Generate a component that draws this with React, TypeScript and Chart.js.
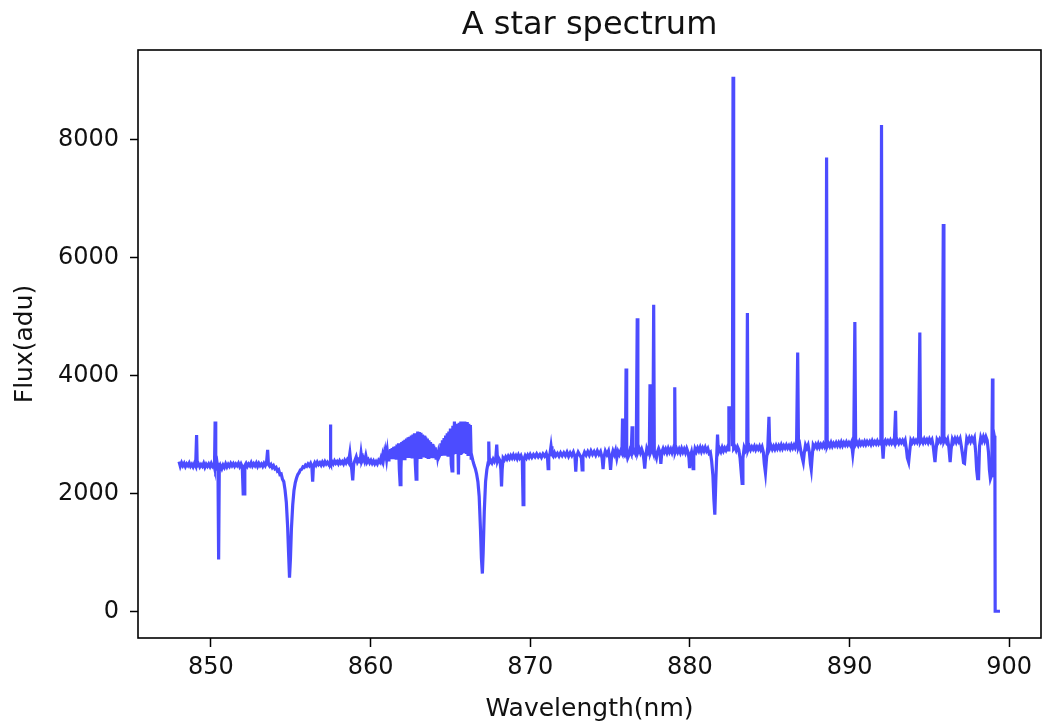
import React, { useEffect, useRef } from "react";
import { Chart, registerables } from "chart.js";

Chart.register(...registerables);

const TITLE = "A star spectrum";
const X_LABEL = "Wavelength(nm)";
const Y_LABEL = "Flux(adu)";
const X_TICKS = [850, 860, 870, 880, 890, 900];
const Y_TICKS = [0, 2000, 4000, 6000, 8000];
const X_MIN = 845.43;
const X_MAX = 901.99;
const Y_MIN = -453.5;
const Y_MAX = 9523.5;

// [wavelength nm, flux adu]
const SEG_848_860: [number, number][] = [
  [848.0, 2540], [848.08, 2460], [848.16, 2520], [848.24, 2470], [848.32, 2510], [848.4, 2455],
  [848.48, 2500], [848.56, 2470], [848.64, 2515], [848.72, 2460], [848.8, 2495], [848.88, 2450],
  [848.96, 2505], [849.04, 2465], [849.1, 2990], [849.14, 2470], [849.22, 2500], [849.3, 2450],
  [849.38, 2490], [849.46, 2460], [849.54, 2510], [849.62, 2445], [849.7, 2495], [849.78, 2460],
  [849.86, 2500], [849.94, 2455], [850.02, 2510], [850.1, 2460], [850.18, 2490], [850.22, 2440],
  [850.26, 3220], [850.3, 2450], [850.38, 2520], [850.44, 2400], [850.48, 880], [850.52, 2380],
  [850.6, 2470], [850.68, 2420], [850.76, 2480], [850.84, 2440], [850.92, 2500], [851.0, 2450],
  [851.08, 2495], [851.16, 2460], [851.24, 2510], [851.32, 2470], [851.4, 2505], [851.48, 2460],
  [851.56, 2500], [851.64, 2470], [851.72, 2510], [851.8, 2455], [851.88, 2500], [851.96, 2450],
  [852.02, 1990], [852.08, 1990], [852.12, 2470], [852.2, 2510], [852.28, 2460], [852.36, 2500],
  [852.44, 2470], [852.52, 2520], [852.6, 2465], [852.68, 2505], [852.76, 2470], [852.84, 2515],
  [852.92, 2460], [853.0, 2510], [853.08, 2470], [853.16, 2500], [853.24, 2460], [853.32, 2510],
  [853.4, 2470], [853.48, 2520], [853.55, 2740], [853.6, 2490], [853.68, 2460], [853.76, 2490],
  [853.84, 2440], [853.92, 2470], [854.0, 2420], [854.08, 2440], [854.16, 2380], [854.24, 2400],
  [854.32, 2320], [854.4, 2330], [854.48, 2240], [854.56, 2200], [854.64, 2060], [854.72, 1850],
  [854.8, 1450], [854.86, 1000], [854.92, 570], [854.98, 900], [855.04, 1400], [855.12, 1800],
  [855.2, 2050], [855.28, 2180], [855.36, 2260], [855.44, 2320], [855.52, 2350], [855.6, 2400],
  [855.68, 2410], [855.76, 2450], [855.84, 2440], [855.92, 2480], [856.0, 2460], [856.08, 2500],
  [856.16, 2470], [856.24, 2510], [856.32, 2450], [856.37, 2200], [856.42, 2470], [856.5, 2520],
  [856.58, 2480], [856.66, 2530], [856.74, 2490], [856.82, 2520], [856.9, 2480], [856.98, 2530],
  [857.06, 2490], [857.14, 2540], [857.22, 2500], [857.3, 2530], [857.38, 2490], [857.46, 2520],
  [857.48, 3170], [857.51, 2500], [857.58, 2540], [857.66, 2500], [857.74, 2550], [857.82, 2510],
  [857.9, 2540], [857.98, 2500], [858.06, 2550], [858.14, 2510], [858.22, 2540], [858.3, 2500],
  [858.38, 2560], [858.46, 2520], [858.54, 2570], [858.62, 2530], [858.7, 2680], [858.76, 2520],
  [858.82, 2400], [858.88, 2220], [858.94, 2500], [859.02, 2560], [859.1, 2620], [859.18, 2530],
  [859.26, 2570], [859.34, 2540], [859.4, 2680], [859.46, 2550], [859.54, 2600], [859.62, 2540],
  [859.7, 2640], [859.78, 2530], [859.86, 2570], [859.94, 2520], [860.02, 2560], [860.1, 2510],
  [860.18, 2550], [860.26, 2500], [860.34, 2540], [860.42, 2500], [860.5, 2560], [860.58, 2530],
];

const SEG_860_866: [number, number][] = [
  [860.65, 2600], [860.7, 2560], [860.75, 2640], [860.8, 2570], [860.85, 2660], [860.9, 2560],
  [860.95, 2680], [861.0, 2580], [861.05, 2700], [861.1, 2570], [861.15, 2720], [861.2, 2590],
  [861.25, 2750], [861.3, 2580], [861.35, 2770], [861.4, 2590], [861.45, 2790], [861.5, 2580],
  [861.55, 2800], [861.6, 2600], [861.65, 2830], [861.7, 2590], [861.75, 2850], [861.8, 2400],
  [861.85, 2150], [861.9, 2400], [861.95, 2870], [862.0, 2600], [862.05, 2890], [862.1, 2590],
  [862.15, 2910], [862.2, 2610], [862.25, 2930], [862.3, 2600], [862.35, 2950], [862.4, 2610],
  [862.45, 2960], [862.5, 2600], [862.55, 2980], [862.6, 2620], [862.65, 3000], [862.7, 2610],
  [862.75, 3020], [862.8, 2500], [862.85, 2240], [862.9, 2500], [862.95, 3050], [863.0, 2620],
  [863.05, 3040], [863.1, 2610], [863.15, 3030], [863.2, 2620], [863.25, 3000], [863.3, 2610],
  [863.35, 2980], [863.4, 2620], [863.45, 2950], [863.5, 2600], [863.55, 2930], [863.6, 2610],
  [863.65, 2900], [863.7, 2600], [863.75, 2870], [863.8, 2610], [863.85, 2840], [863.9, 2600],
  [863.95, 2810], [864.0, 2610], [864.05, 2780], [864.1, 2600], [864.15, 2740], [864.2, 2620],
  [864.25, 2700], [864.3, 2630], [864.35, 2660], [864.4, 2850], [864.45, 2640], [864.5, 2900],
  [864.55, 2650], [864.6, 2940], [864.65, 2640], [864.7, 2980], [864.75, 2660], [864.8, 3020],
  [864.85, 2650], [864.9, 3050], [864.95, 2670], [865.0, 3100], [865.05, 2500], [865.1, 2380],
  [865.15, 3150], [865.2, 2660], [865.25, 3220], [865.3, 2680], [865.35, 3180], [865.4, 2670],
  [865.45, 3150], [865.5, 2320], [865.55, 3200], [865.6, 2680], [865.65, 3220], [865.7, 2670],
  [865.75, 3210], [865.8, 2690], [865.85, 3220], [865.9, 2680], [865.95, 3200], [866.0, 2670],
  [866.05, 3210], [866.1, 2660], [866.15, 3180], [866.2, 2650], [866.25, 3160], [866.3, 2600],
  [866.35, 2620], [866.4, 2560],
];

const SEG_866_876: [number, number][] = [
  [866.48, 2480], [866.56, 2420], [866.64, 2330], [866.72, 2200], [866.8, 1950], [866.88, 1400],
  [866.94, 900], [867.0, 640], [867.05, 1000], [867.12, 1700], [867.2, 2200], [867.28, 2400],
  [867.36, 2520], [867.4, 2880], [867.44, 2520], [867.52, 2560], [867.6, 2520], [867.68, 2580],
  [867.76, 2540], [867.84, 2590], [867.9, 2830], [867.95, 2550], [868.02, 2600], [868.1, 2560],
  [868.16, 2400], [868.2, 2120], [868.24, 2400], [868.3, 2600], [868.38, 2570], [868.46, 2620],
  [868.54, 2580], [868.62, 2630], [868.7, 2590], [868.78, 2640], [868.86, 2600], [868.94, 2650],
  [869.02, 2600], [869.1, 2640], [869.18, 2590], [869.26, 2650], [869.34, 2600], [869.42, 2640],
  [869.5, 2580], [869.55, 1810], [869.6, 2580], [869.68, 2640], [869.76, 2600], [869.84, 2650],
  [869.92, 2610], [870.0, 2660], [870.1, 2610], [870.2, 2660], [870.3, 2620], [870.4, 2670],
  [870.5, 2620], [870.6, 2660], [870.7, 2610], [870.8, 2670], [870.9, 2630], [871.0, 2680],
  [871.08, 2600], [871.12, 2420], [871.16, 2620], [871.24, 2680], [871.3, 2800], [871.36, 2660],
  [871.44, 2630], [871.52, 2690], [871.6, 2640], [871.7, 2680], [871.8, 2630], [871.9, 2690],
  [872.0, 2640], [872.1, 2690], [872.2, 2640], [872.3, 2700], [872.4, 2630], [872.5, 2690],
  [872.6, 2640], [872.7, 2700], [872.8, 2620], [872.85, 2370], [872.9, 2620], [873.0, 2700],
  [873.1, 2650], [873.2, 2600], [873.25, 2400], [873.3, 2620], [873.4, 2700], [873.5, 2650],
  [873.6, 2710], [873.7, 2650], [873.8, 2720], [873.9, 2660], [874.0, 2710], [874.1, 2650],
  [874.2, 2720], [874.3, 2660], [874.4, 2710], [874.5, 2600], [874.56, 2410], [874.62, 2620],
  [874.7, 2720], [874.8, 2660], [874.9, 2720], [874.97, 2600], [875.03, 2400], [875.09, 2620],
  [875.18, 2720], [875.26, 2660], [875.34, 2730], [875.42, 2600], [875.5, 2710], [875.58, 2660],
  [875.66, 2720], [875.74, 2680], [875.78, 3270], [875.82, 2680], [875.9, 2650], [875.96, 2720],
  [876.0, 4120], [876.04, 2690], [876.1, 2600], [876.16, 2640], [876.24, 2730], [876.32, 2680],
  [876.38, 3140], [876.42, 2690], [876.5, 2730], [876.58, 2680], [876.64, 2740], [876.7, 4970],
  [876.74, 2700], [876.82, 2760], [876.9, 2690],
];

const SEG_877_888: [number, number][] = [
  [876.98, 2750], [877.06, 2680], [877.12, 2560], [877.17, 2420], [877.22, 2600], [877.3, 2760],
  [877.38, 2700], [877.46, 2770], [877.5, 3850], [877.54, 2700], [877.62, 2760], [877.68, 2710],
  [877.73, 5200], [877.77, 2700], [877.84, 2650], [877.9, 2600], [877.96, 2700], [878.04, 2760],
  [878.12, 2700], [878.18, 2500], [878.24, 2700], [878.32, 2760], [878.4, 2700], [878.48, 2750],
  [878.56, 2690], [878.64, 2760], [878.72, 2700], [878.8, 2750], [878.88, 2690], [878.96, 2760],
  [879.02, 2700], [879.05, 3800], [879.08, 2700], [879.16, 2760], [879.24, 2700], [879.32, 2750],
  [879.4, 2690], [879.48, 2760], [879.56, 2700], [879.64, 2750], [879.72, 2690], [879.8, 2760],
  [879.88, 2700], [879.94, 2600], [879.98, 2430], [880.02, 2620], [880.1, 2700], [880.16, 2600],
  [880.2, 2420], [880.24, 2620], [880.32, 2760], [880.4, 2710], [880.48, 2770], [880.56, 2720],
  [880.64, 2780], [880.72, 2710], [880.8, 2770], [880.88, 2720], [880.96, 2780], [881.04, 2720],
  [881.12, 2760], [881.2, 2680], [881.28, 2700], [881.36, 2550], [881.44, 2300], [881.5, 1900],
  [881.56, 1640], [881.62, 2200], [881.68, 2650], [881.73, 3000], [881.78, 2700], [881.86, 2760],
  [881.94, 2710], [882.02, 2780], [882.1, 2720], [882.18, 2770], [882.26, 2730], [882.34, 2780],
  [882.4, 2740], [882.44, 3450], [882.62, 3450], [882.66, 2800], [882.7, 9070], [882.74, 2760],
  [882.82, 2790], [882.9, 2730], [882.98, 2790], [883.06, 2740], [883.14, 2600], [883.2, 2400],
  [883.27, 2170], [883.32, 2600], [883.4, 2780], [883.48, 2730], [883.56, 2790], [883.6, 5060],
  [883.64, 2740], [883.72, 2800], [883.8, 2740], [883.88, 2790], [883.96, 2750], [884.04, 2800],
  [884.12, 2740], [884.2, 2790], [884.28, 2750], [884.36, 2800], [884.44, 2740], [884.52, 2790],
  [884.6, 2700], [884.66, 2500], [884.73, 2350], [884.8, 2600], [884.88, 2790], [884.95, 3300],
  [885.0, 2760], [885.08, 2810], [885.16, 2750], [885.24, 2800], [885.32, 2750], [885.4, 2810],
  [885.48, 2760], [885.56, 2810], [885.64, 2760], [885.72, 2820], [885.8, 2760], [885.88, 2810],
  [885.96, 2770], [886.04, 2820], [886.12, 2770], [886.2, 2810], [886.28, 2760], [886.36, 2820],
  [886.44, 2770], [886.52, 2820], [886.6, 2770], [886.68, 2830], [886.75, 4390], [886.8, 2780],
  [886.88, 2830], [886.96, 2700], [887.04, 2600], [887.1, 2530], [887.16, 2680], [887.24, 2820],
  [887.32, 2770], [887.4, 2820], [887.48, 2700], [887.55, 2500], [887.6, 2410], [887.65, 2600],
  [887.72, 2820], [887.8, 2780], [887.88, 2830], [887.96, 2780],
];

const SEG_888_900: [number, number][] = [
  [888.04, 2840], [888.12, 2780], [888.2, 2830], [888.28, 2790], [888.36, 2840], [888.44, 2790],
  [888.52, 2840], [888.56, 7700], [888.6, 2800], [888.68, 2850], [888.76, 2800], [888.84, 2860],
  [888.92, 2800], [889.0, 2850], [889.08, 2810], [889.16, 2860], [889.24, 2810], [889.32, 2860],
  [889.4, 2810], [889.48, 2870], [889.56, 2810], [889.64, 2860], [889.72, 2820], [889.8, 2870],
  [889.88, 2820], [889.96, 2860], [890.04, 2820], [890.12, 2870], [890.2, 2670], [890.26, 2820],
  [890.33, 4910], [890.38, 2830], [890.46, 2870], [890.54, 2820], [890.62, 2880], [890.7, 2830],
  [890.78, 2870], [890.86, 2830], [890.94, 2880], [891.02, 2830], [891.1, 2880], [891.18, 2840],
  [891.26, 2880], [891.34, 2830], [891.42, 2890], [891.5, 2840], [891.58, 2880], [891.66, 2840],
  [891.74, 2890], [891.82, 2840], [891.9, 2880], [891.96, 2850], [892.0, 8250], [892.04, 2850],
  [892.1, 2590], [892.16, 2860], [892.24, 2900], [892.32, 2850], [892.4, 2890], [892.48, 2850],
  [892.56, 2900], [892.64, 2850], [892.72, 2890], [892.8, 2850], [892.88, 3400], [892.92, 2860],
  [893.0, 2900], [893.08, 2850], [893.16, 2900], [893.24, 2860], [893.32, 2900], [893.4, 2850],
  [893.48, 2900], [893.56, 2750], [893.62, 2600], [893.7, 2530], [893.76, 2700], [893.84, 2900],
  [893.92, 2860], [894.0, 2910], [894.08, 2860], [894.16, 2900], [894.24, 2860], [894.32, 2910],
  [894.4, 4730], [894.44, 2870], [894.52, 2910], [894.6, 2860], [894.68, 2920], [894.76, 2870],
  [894.84, 2910], [894.92, 2860], [895.0, 2920], [895.08, 2870], [895.16, 2910], [895.24, 2800],
  [895.3, 2650], [895.35, 2530], [895.4, 2700], [895.48, 2910], [895.56, 2870], [895.64, 2920],
  [895.72, 2870], [895.8, 2910], [895.87, 6570], [895.91, 2880], [895.98, 2920], [896.06, 2870],
  [896.14, 2920], [896.22, 2780], [896.3, 2530], [896.36, 2750], [896.44, 2920], [896.52, 2870],
  [896.6, 2930], [896.68, 2870], [896.76, 2930], [896.84, 2880], [896.92, 2930], [897.0, 2800],
  [897.08, 2650], [897.14, 2520], [897.2, 2510], [897.26, 2700], [897.34, 2930], [897.42, 2880],
  [897.5, 2940], [897.58, 2880], [897.66, 2940], [897.74, 2890], [897.82, 2940], [897.9, 2700],
  [897.96, 2400], [898.02, 2250], [898.08, 2250], [898.14, 2800], [898.22, 2950], [898.3, 2890],
  [898.38, 2960], [898.46, 2890], [898.54, 2960], [898.62, 2900], [898.7, 2700], [898.76, 2400],
  [898.82, 2250], [898.88, 2300], [898.92, 2950], [898.95, 3950], [898.98, 2950], [899.02, 2900],
  [899.06, 2980], [899.1, 2920], [899.12, 0], [899.42, 0],
];

const SPECTRUM = [
  ...SEG_848_860,
  ...SEG_860_866,
  ...SEG_866_876,
  ...SEG_877_888,
  ...SEG_888_900,
];

const FONT = "'DejaVu Sans', sans-serif";
const TEXT_COLOR = "#111";

const framePlugin = {
  id: "frameAndTitle",
  afterDraw(chart: any) {
    const { ctx, chartArea } = chart;
    const { left, top, right, bottom } = chartArea;
    ctx.save();
    ctx.strokeStyle = "#000";
    ctx.lineWidth = 1.6;
    ctx.strokeRect(left, top, right - left, bottom - top);
    ctx.fillStyle = TEXT_COLOR;
    ctx.font = `32px ${FONT}`;
    ctx.textAlign = "center";
    ctx.textBaseline = "middle";
    ctx.fillText(TITLE, (left + right) / 2, 26);
    ctx.restore();
  },
};

export default function App() {
  const canvasRef = useRef<HTMLCanvasElement | null>(null);

  useEffect(() => {
    if (!canvasRef.current) return;
    const chart = new Chart(canvasRef.current, {
      type: "line",
      data: {
        datasets: [
          {
            data: SPECTRUM.map(([x, y]) => ({ x, y })),
            borderColor: "rgba(0,0,255,0.7)",
            borderWidth: 3.2,
            pointRadius: 0,
            tension: 0,
            fill: false,
          },
        ],
      },
      options: {
        animation: false,
        responsive: false,
        devicePixelRatio: 1,
        layout: { padding: { top: 50, right: 2, left: 0, bottom: 0 } },
        plugins: {
          legend: { display: false },
          tooltip: { enabled: false },
          title: { display: false },
        },
        scales: {
          x: {
            type: "linear",
            min: X_MIN,
            max: X_MAX,
            afterBuildTicks: (s: any) => {
              s.ticks = X_TICKS.map((v) => ({ value: v }));
            },
            afterFit: (s: any) => {
              s.height = 89;
            },
            ticks: {
              autoSkip: false,
              maxRotation: 0,
              padding: 6,
              color: TEXT_COLOR,
              font: { family: FONT, size: 24 },
              callback: (v: any) => String(v),
            },
            grid: {
              display: true,
              drawOnChartArea: false,
              drawTicks: true,
              tickLength: 9,
              tickColor: "#000",
              tickWidth: 1.5,
            },
            border: { display: false },
            title: {
              display: true,
              text: X_LABEL,
              color: TEXT_COLOR,
              font: { family: FONT, size: 25 },
              padding: { top: 0, bottom: 3 },
            },
          },
          y: {
            type: "linear",
            min: Y_MIN,
            max: Y_MAX,
            afterBuildTicks: (s: any) => {
              s.ticks = Y_TICKS.map((v) => ({ value: v }));
            },
            afterFit: (s: any) => {
              s.width = 138;
            },
            ticks: {
              autoSkip: false,
              padding: 11,
              color: TEXT_COLOR,
              font: { family: FONT, size: 24 },
              callback: (v: any) => String(v),
            },
            grid: {
              display: true,
              drawOnChartArea: false,
              drawTicks: true,
              tickLength: 8,
              tickColor: "#000",
              tickWidth: 1.5,
            },
            border: { display: false },
            title: {
              display: true,
              text: Y_LABEL,
              color: TEXT_COLOR,
              font: { family: FONT, size: 25 },
              padding: { top: 10, bottom: 0 },
            },
          },
        },
      },
      plugins: [framePlugin],
    });
    return () => chart.destroy();
  }, []);

  return (
    <div style={{ position: "absolute", left: 0, top: 0, width: 1043, height: 727, background: "#fff" }}>
      <canvas ref={canvasRef} width={1043} height={727} style={{ display: "block" }} />
    </div>
  );
}
